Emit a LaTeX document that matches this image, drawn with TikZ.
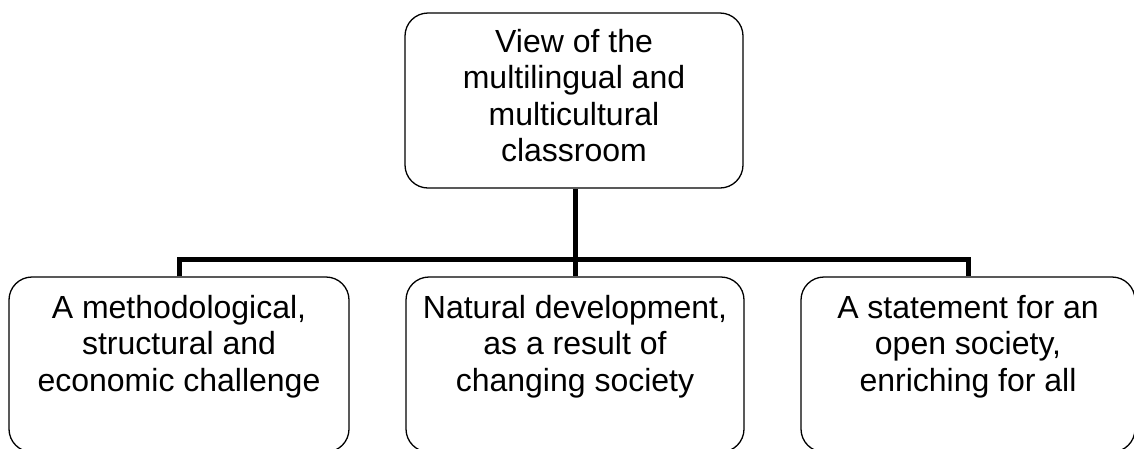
\documentclass[tikz,border=0pt]{standalone}
\usepackage{fontspec}
\setmainfont{Liberation Sans}
\begin{document}
\begin{tikzpicture}[x=1pt,y=-1pt,
  box/.style={draw=black,line width=1.3pt,rounded corners=23pt,inner sep=0pt},
  txt/.style={align=center,inner sep=0pt,anchor=north,font=\fontsize{32}{36.5}\selectfont},
  conn/.style={draw=black,line width=5pt}]
\useasboundingbox (0,0) rectangle (1134,448);
\node[box,minimum width=338pt,minimum height=175pt] (top) at (574,100.5) {};
\node[txt] (toptxt) at (574,29) {View of the\\multilingual and\\multicultural\\classroom};
\node[box,minimum width=340pt,minimum height=175pt] (b1) at (179,364.5) {};
\node[box,minimum width=338pt,minimum height=175pt] (b2) at (575,364.5) {};
\node[box,minimum width=334pt,minimum height=175pt] (b3) at (968,364.5) {};
\node[txt] (t1) at (179,295) {A methodological,\\structural and\\economic challenge};
\node[txt] (t2) at (575,295) {Natural development,\\as a result of\\changing society};
\node[txt] (t3) at (968,295) {A statement for an\\open society,\\enriching for all};
\coordinate (bar) at (575,259);
\draw[conn] (top.south -| bar) -- (b2.north);
\draw[conn] (b1.north) |- (bar) -| (b3.north);
\end{tikzpicture}
\end{document}
